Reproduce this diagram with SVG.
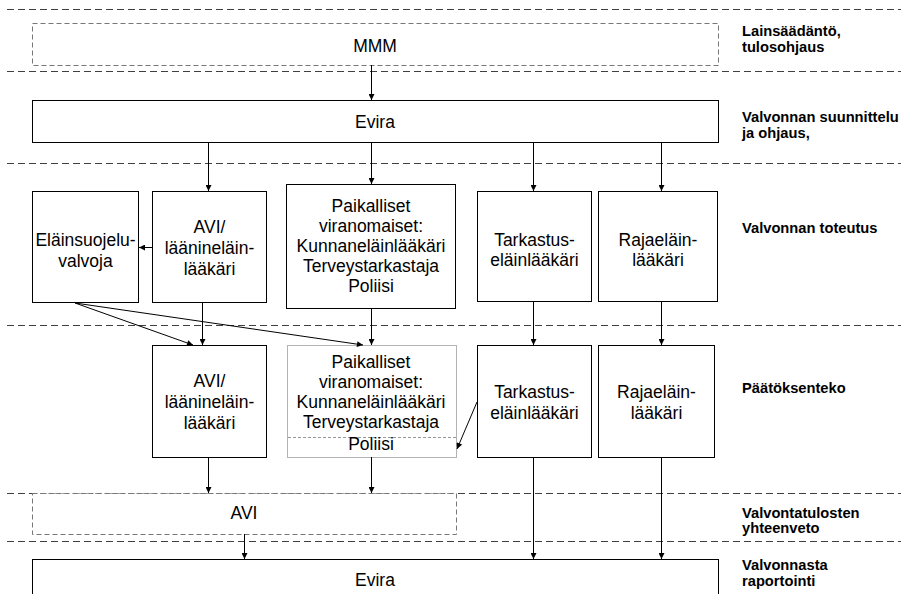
<svg xmlns="http://www.w3.org/2000/svg" width="901" height="594" viewBox="0 0 901 594">
<style>
  .sep { stroke:#404040; stroke-width:1; stroke-dasharray:7 4; fill:none; }
  .box { fill:#fff; stroke:#000; stroke-width:1; }
  .dbox { fill:#fff; stroke:#777; stroke-width:1; stroke-dasharray:5 3; }
  .dotbox { fill:#fff; stroke:#666; stroke-width:1; stroke-dasharray:1 1; }
  .t { font-family:"Liberation Sans", Arial, sans-serif; font-size:17.5px; fill:#000; text-anchor:middle; }
  .lab { font-family:"Liberation Sans", Arial, sans-serif; font-size:14.7px; font-weight:bold; fill:#000; }
  .c { stroke:#000; stroke-width:1; fill:none; marker-end:url(#ah); }
</style>
<defs>
  <marker id="ah" viewBox="0 0 10 10" refX="10" refY="5" markerWidth="7" markerHeight="6" markerUnits="userSpaceOnUse" orient="auto">
    <path d="M0,0 L10,5 L0,10 z" fill="#000"/>
  </marker>
</defs>
<rect width="901" height="594" fill="#fff"/>

<g id="separators">
  <line class="sep" x1="7" y1="9.5" x2="901" y2="9.5"/>
  <line class="sep" x1="7" y1="71.5" x2="901" y2="71.5"/>
  <line class="sep" x1="7" y1="163.5" x2="901" y2="163.5"/>
  <line class="sep" x1="7" y1="325.5" x2="901" y2="325.5"/>
  <line class="sep" x1="7" y1="493.5" x2="901" y2="493.5"/>
  <line class="sep" x1="7" y1="541.5" x2="901" y2="541.5"/>
</g>

<g id="labels">
  <text class="lab" x="742" y="36">Lainsäädäntö,</text>
  <text class="lab" x="742" y="52">tulosohjaus</text>
  <text class="lab" x="742" y="122">Valvonnan suunnittelu</text>
  <text class="lab" x="742" y="138">ja ohjaus,</text>
  <text class="lab" x="742" y="233">Valvonnan toteutus</text>
  <text class="lab" x="742" y="393">Päätöksenteko</text>
  <text class="lab" x="742" y="518">Valvontatulosten</text>
  <text class="lab" x="742" y="533">yhteenveto</text>
  <text class="lab" x="742" y="570">Valvonnasta</text>
  <text class="lab" x="742" y="586">raportointi</text>
</g>

<g id="mmm">
  <rect class="dbox" x="32.5" y="23.5" width="686" height="42"/>
  <text class="t" x="375" y="52">MMM</text>
</g>
<g id="evira-top">
  <rect class="box" x="32.5" y="100.5" width="686" height="42"/>
  <text class="t" x="375" y="128">Evira</text>
</g>

<g id="elainsuojeluvalvoja">
  <rect class="box" x="32.5" y="191.5" width="106" height="111"/>
  <text class="t" x="85.5" y="246">Eläinsuojelu-</text>
  <text class="t" x="85.5" y="267">valvoja</text>
</g>
<g id="avi-toteutus">
  <rect class="box" x="152.5" y="191.5" width="114" height="111"/>
  <text class="t" x="209.5" y="233">AVI/</text>
  <text class="t" x="209.5" y="254">läänineläin-</text>
  <text class="t" x="209.5" y="275">lääkäri</text>
</g>
<g id="paikalliset-toteutus">
  <rect class="box" x="286.5" y="184.5" width="169" height="124"/>
  <text class="t" x="371" y="212">Paikalliset</text>
  <text class="t" x="371" y="232">viranomaiset:</text>
  <text class="t" x="371" y="252">Kunnaneläinlääkäri</text>
  <text class="t" x="371" y="272">Terveystarkastaja</text>
  <text class="t" x="371" y="292">Poliisi</text>
</g>
<g id="tarkastus-toteutus">
  <rect class="box" x="477.5" y="191.5" width="114" height="110"/>
  <text class="t" x="534.5" y="246">Tarkastus-</text>
  <text class="t" x="534.5" y="266">eläinlääkäri</text>
</g>
<g id="raja-toteutus">
  <rect class="box" x="598.5" y="191.5" width="119" height="110"/>
  <text class="t" x="658" y="246">Rajaeläin-</text>
  <text class="t" x="658" y="266">lääkäri</text>
</g>

<g id="avi-paatos">
  <rect class="box" x="152.5" y="345.5" width="114" height="112"/>
  <text class="t" x="209.5" y="387">AVI/</text>
  <text class="t" x="209.5" y="408">läänineläin-</text>
  <text class="t" x="209.5" y="429">lääkäri</text>
</g>
<g id="paikalliset-paatos">
  <rect class="dotbox" x="287.5" y="345.5" width="169" height="112"/>
  <line x1="288" y1="437.5" x2="456" y2="437.5" stroke="#999" stroke-width="1" stroke-dasharray="3 2"/>
  <text class="t" x="371" y="368">Paikalliset</text>
  <text class="t" x="371" y="388">viranomaiset:</text>
  <text class="t" x="371" y="408">Kunnaneläinlääkäri</text>
  <text class="t" x="371" y="428">Terveystarkastaja</text>
  <text class="t" x="371" y="450">Poliisi</text>
</g>
<g id="tarkastus-paatos">
  <rect class="box" x="477.5" y="345.5" width="114" height="112"/>
  <text class="t" x="534.5" y="398">Tarkastus-</text>
  <text class="t" x="534.5" y="419">eläinlääkäri</text>
</g>
<g id="raja-paatos">
  <rect class="box" x="598.5" y="345.5" width="116" height="112"/>
  <text class="t" x="656.5" y="398">Rajaeläin-</text>
  <text class="t" x="656.5" y="419">lääkäri</text>
</g>

<g id="avi-yhteenveto">
  <rect class="dbox" x="32.5" y="493.5" width="424" height="41"/>
  <text class="t" x="244" y="519">AVI</text>
</g>
<g id="evira-bottom">
  <rect class="box" x="32.5" y="559.5" width="686" height="50"/>
  <text class="t" x="375" y="586">Evira</text>
</g>

<g id="connectors">
  <line class="c" x1="371.5" y1="65" x2="371.5" y2="100"/>
  <line class="c" x1="208.5" y1="142" x2="208.5" y2="191"/>
  <line class="c" x1="371.5" y1="142" x2="371.5" y2="184"/>
  <line class="c" x1="533.5" y1="142" x2="533.5" y2="191"/>
  <line class="c" x1="661.5" y1="142" x2="661.5" y2="191"/>
  <line class="c" x1="152" y1="247.5" x2="139" y2="247.5"/>
  <line class="c" x1="202.5" y1="302" x2="202.5" y2="345"/>
  <line class="c" x1="371.5" y1="308" x2="371.5" y2="345"/>
  <line class="c" x1="533.5" y1="301" x2="533.5" y2="345"/>
  <line class="c" x1="661.5" y1="301" x2="661.5" y2="345"/>
  <line class="c" x1="75" y1="303" x2="193" y2="345"/>
  <line class="c" x1="75" y1="303" x2="363" y2="345"/>
  <line class="c" x1="477" y1="402" x2="457" y2="449"/>
  <line class="c" x1="208.5" y1="457" x2="208.5" y2="493"/>
  <line class="c" x1="371.5" y1="457" x2="371.5" y2="493"/>
  <line class="c" x1="533.5" y1="457" x2="533.5" y2="559"/>
  <line class="c" x1="661.5" y1="457" x2="661.5" y2="559"/>
  <line class="c" x1="244.5" y1="534" x2="244.5" y2="559"/>
</g>
</svg>
